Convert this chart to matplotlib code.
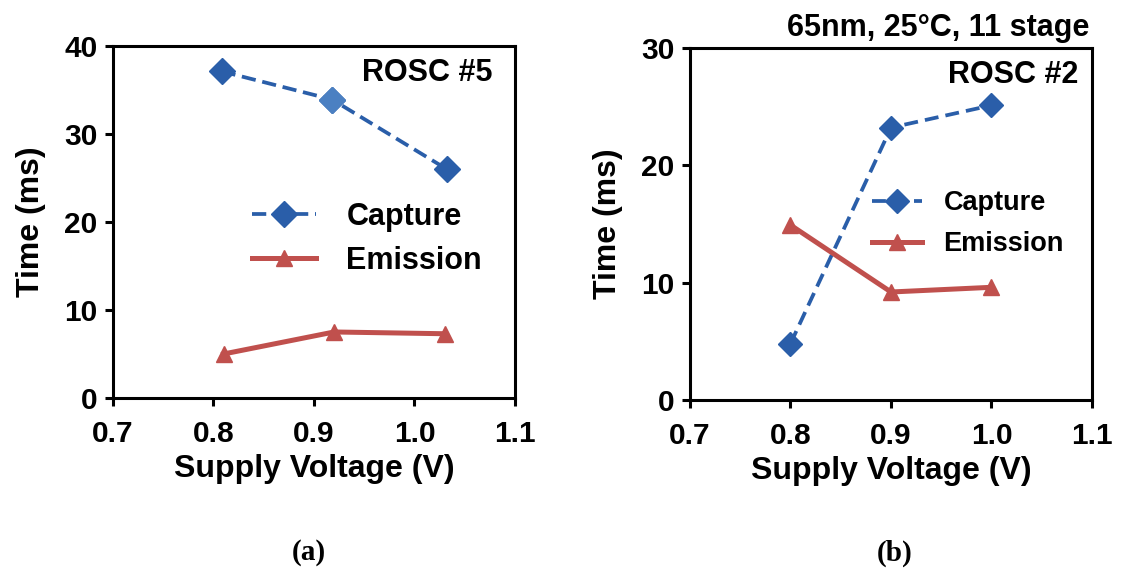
import matplotlib
matplotlib.use("Agg")
import matplotlib.pyplot as plt

plt.rcParams['font.family'] = ['Liberation Sans', 'DejaVu Sans']
plt.rcParams['font.weight'] = 'bold'

# ROSC #5 measurements
volt_a = [0.808, 0.918, 1.032]
capture_a = [37.1, 33.9, 26.0]
volt_a_em = [0.810, 0.920, 1.030]
emission_a = [5.0, 7.5, 7.3]

# ROSC #2 measurements
volt_b = [0.80, 0.90, 1.00]
capture_b = [4.8, 23.2, 25.1]
emission_b = [14.9, 9.2, 9.6]

xticks = [0.7, 0.8, 0.9, 1.0, 1.1]
xtick_labels = ['0.7', '0.8', '0.9', '1.0', '1.1']
yticks_a = [0, 10, 20, 30, 40]
yticks_b = [0, 10, 20, 30]

BLUE = '#2a5ea9'
BLUE_LIGHT = '#4b80c2'
RED = '#c0504d'

fig = plt.figure(figsize=(11.23, 5.69), dpi=100)
ax_a = fig.add_axes([0.1006, 0.3005, 0.358, 0.619])
ax_b = fig.add_axes([0.6144, 0.297, 0.358, 0.619])


def style_axes(ax, ylim, yticks):
    ax.set_xlim(0.7, 1.1)
    ax.set_ylim(*ylim)
    ax.set_xticks(xticks)
    ax.set_xticklabels(xtick_labels)
    ax.set_yticks(yticks)
    for s in ax.spines.values():
        s.set_linewidth(2.2)
    ax.tick_params(axis='both', direction='out', length=6, width=2.2,
                   labelsize=21.5)
    ax.tick_params(axis='x', pad=10)
    ax.tick_params(axis='y', pad=5)
    for lab in ax.get_xticklabels() + ax.get_yticklabels():
        lab.set_fontweight('bold')
    ax.set_xlabel('Supply Voltage (V)', fontsize=23, fontweight='bold',
                  labelpad=4)
    ax.set_ylabel('Time (ms)', fontsize=23, fontweight='bold', labelpad=13)


# Panel (a)
ax_a.plot(volt_a, capture_a, linestyle=(0, (3.8, 1.8)), linewidth=2.7,
          color=BLUE, marker='D', markersize=13.5, markerfacecolor=BLUE,
          markeredgecolor=BLUE, label='Capture', zorder=3)
ax_a.plot(volt_a[1], capture_a[1], linestyle='none', marker='D',
          markersize=13.5, color=BLUE_LIGHT, zorder=4)
ax_a.plot(volt_a_em, emission_a, linestyle='-', linewidth=3.6, color=RED,
          marker='^', markersize=12, label='Emission', zorder=3)
style_axes(ax_a, (0, 40), yticks_a)
ax_a.text(0.943, 0.965, 'ROSC #5', transform=ax_a.transAxes, ha='right',
          va='top', fontsize=22, fontweight='bold')
ax_a.legend(loc='center left', bbox_to_anchor=(0.345, 0.452), frameon=False,
            fontsize=22, handlelength=2.1, handletextpad=1.0,
            labelspacing=0.45, borderpad=0, borderaxespad=0)

# Panel (b)
ax_b.plot(volt_b, capture_b, linestyle=(0, (3.7, 1.9)), linewidth=2.7,
          color=BLUE, marker='D', markersize=12, label='Capture', zorder=3)
ax_b.plot(volt_b, emission_b, linestyle='-', linewidth=3.6, color=RED,
          marker='^', markersize=11.5, label='Emission', zorder=3)
style_axes(ax_b, (0, 30), yticks_b)
ax_b.text(0.965, 0.965, 'ROSC #2', transform=ax_b.transAxes, ha='right',
          va='top', fontsize=22, fontweight='bold')
ax_b.text(0.993, 1.034, '65nm, 25°C, 11 stage', transform=ax_b.transAxes,
          ha='right', va='baseline', fontsize=22, fontweight='bold')
ax_b.legend(loc='center left', bbox_to_anchor=(0.452, 0.500), frameon=False,
            fontsize=19.5, handlelength=1.85, handletextpad=0.8,
            labelspacing=0.55, borderpad=0, borderaxespad=0)

# Sub-figure captions
fig.text(309 / 1123, 1 - 553 / 569, '(a)', ha='center', va='center',
         fontsize=21, fontweight='bold', family='Liberation Serif')
fig.text(895 / 1123, 1 - 553 / 569, '(b)', ha='center', va='center',
         fontsize=21, fontweight='bold', family='Liberation Serif')

fig.savefig('out.png', dpi=100)
